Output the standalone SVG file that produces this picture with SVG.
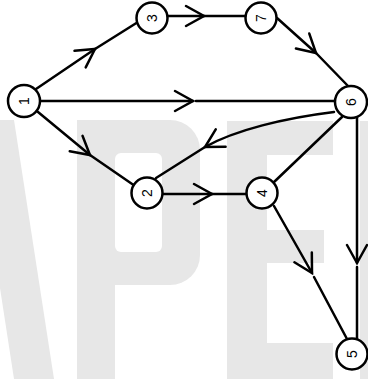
<svg xmlns="http://www.w3.org/2000/svg" width="368" height="379" viewBox="0 0 368 379">
  <defs>
    <marker id="chev" viewBox="-20 -12 22 24" refX="0" refY="0" markerWidth="22" markerHeight="24" markerUnits="userSpaceOnUse" orient="auto" overflow="visible">
      <path d="M -18,-10 L 0,0 L -18,10" fill="none" stroke="#000" stroke-width="2.5" stroke-linejoin="miter" stroke-linecap="round"/>
    </marker>
  </defs>
  <style>
    .wm { fill: #e7e7e7; }
    .edge { fill: none; stroke: #000; stroke-width: 2.5; stroke-linecap: round; }
    .node circle { fill: #fff; stroke: #000; stroke-width: 2.5; }
    .node text { font-family: "Liberation Sans", Arial, sans-serif; font-size: 14px; fill: #000; text-anchor: middle; dominant-baseline: central; }
  </style>
  <rect width="368" height="379" fill="#fff"/>
  <g id="watermark">
    <polygon class="wm" points="0,120 14,120 54,379 14,379 0,288"/>
    <rect class="wm" x="77" y="120" width="123" height="165" rx="30"/>
    <rect class="wm" x="77" y="120" width="60" height="165"/>
    <rect class="wm" x="77" y="120" width="38" height="259"/>
    <rect x="115" y="153" width="47" height="99" rx="6" fill="#fff"/>
    <rect class="wm" x="227" y="121" width="40" height="258"/>
    <rect class="wm" x="227" y="121" width="106" height="34"/>
    <rect class="wm" x="227" y="230" width="97" height="33"/>
    <rect class="wm" x="227" y="343" width="106" height="36"/>
    <rect class="wm" x="360" y="121" width="8" height="258"/>
  </g>
  <g id="connectors">
    <!-- 1 -> 3 -->
    <path class="edge" d="M 36,89 L 95,49" marker-end="url(#chev)"/>
    <path class="edge" d="M 95,49 L 138,22"/>
    <!-- 3 -> 7 -->
    <path class="edge" d="M 167,16 L 204,16" marker-end="url(#chev)"/>
    <path class="edge" d="M 204,16 L 245,16"/>
    <!-- 7 -> 6 -->
    <path class="edge" d="M 277,18 L 316,53" marker-end="url(#chev)"/>
    <path class="edge" d="M 316,53 L 349,87"/>
    <!-- 1 -> 6 -->
    <path class="edge" d="M 40,101 L 193,101" marker-end="url(#chev)"/>
    <path class="edge" d="M 196,101 L 335,101"/>
    <!-- 1 -> 2 -->
    <path class="edge" d="M 38,112 L 90,155" marker-end="url(#chev)"/>
    <path class="edge" d="M 90,155 L 135,186"/>
    <!-- 6 -> 2 -->
    <path class="edge" d="M 334,112 C 285,118 235,130 205,147" marker-end="url(#chev)"/>
    <path class="edge" d="M 205,147 L 156,178"/>
    <!-- 2 -> 4 -->
    <path class="edge" d="M 162,194 L 212,194" marker-end="url(#chev)"/>
    <path class="edge" d="M 212,194 L 247,194"/>
    <!-- 6 - 4 -->
    <path class="edge" d="M 342,117 L 273,183"/>
    <!-- 4 -> 5 -->
    <path class="edge" d="M 274,206 L 312,273" marker-end="url(#chev)"/>
    <path class="edge" d="M 314,277 L 347,339"/>
    <!-- 6 -> 5 -->
    <path class="edge" d="M 357,117 L 357,263" marker-end="url(#chev)"/>
    <path class="edge" d="M 357,267 L 357,339"/>
  </g>
  <g id="node-1" class="node"><circle cx="24" cy="101" r="16"/><text x="24" y="101" transform="rotate(-90 24 101)">1</text></g>
  <g id="node-3" class="node"><circle cx="152" cy="18" r="15.5"/><text x="152" y="18" transform="rotate(-90 152 18)">3</text></g>
  <g id="node-7" class="node"><circle cx="261" cy="18" r="15.5"/><text x="261" y="18" transform="rotate(-90 261 18)">7</text></g>
  <g id="node-6" class="node"><circle cx="351" cy="102" r="16"/><text x="351" y="102" transform="rotate(-90 351 102)">6</text></g>
  <g id="node-2" class="node"><circle cx="147" cy="193" r="15.5"/><text x="147" y="193" transform="rotate(-90 147 193)">2</text></g>
  <g id="node-4" class="node"><circle cx="262" cy="193" r="15.5"/><text x="262" y="193" transform="rotate(-90 262 193)">4</text></g>
  <g id="node-5" class="node"><circle cx="352" cy="354" r="15.5"/><text x="352" y="354" transform="rotate(-90 352 354)">5</text></g>
</svg>
